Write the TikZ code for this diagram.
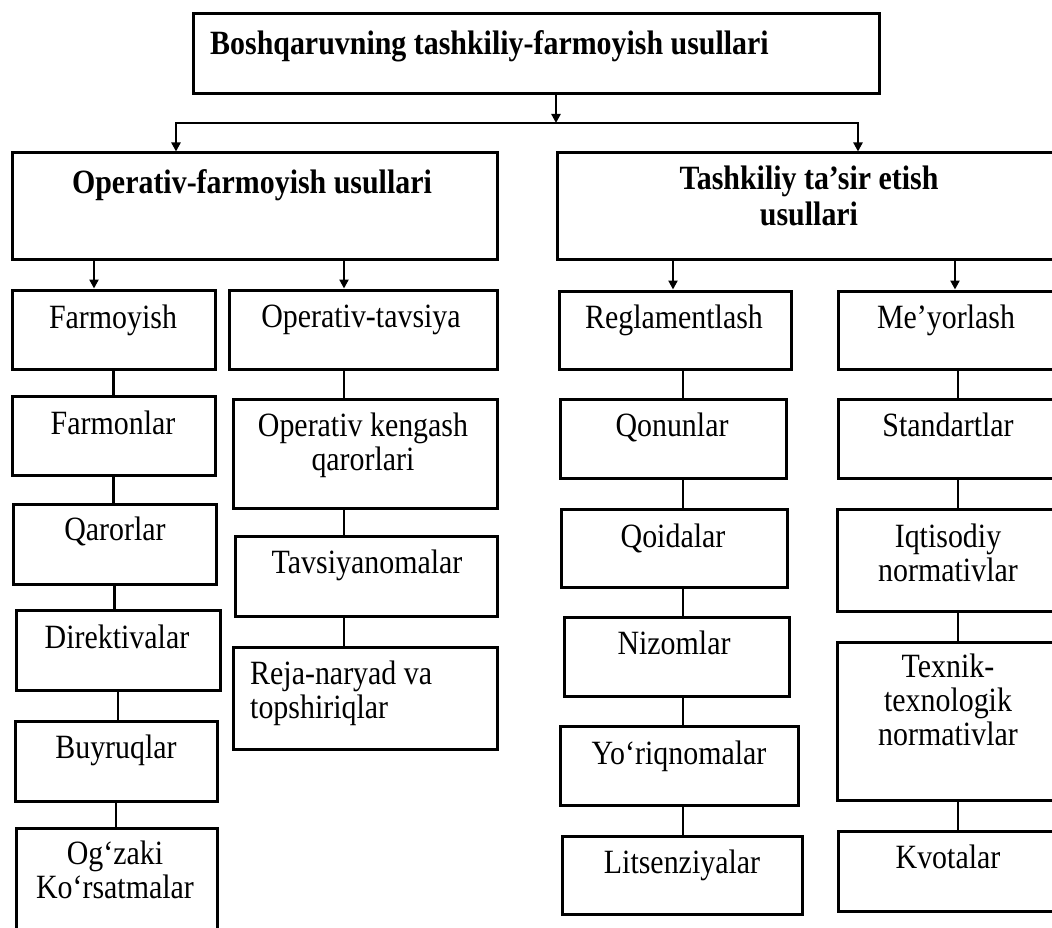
\documentclass[tikz,border=0pt]{standalone}
\usepackage{fontspec}
\setmainfont[FakeStretch=0.88]{Liberation Serif}
\usetikzlibrary{arrows.meta,fit}

\tikzset{
  blk/.style={draw, line width=3pt, inner sep=0pt},
  txt/.style={anchor=north, align=center, inner sep=0pt, font=\fontsize{34}{34}\selectfont},
  hdr/.style={txt, font=\fontsize{34}{36}\selectfont\bfseries},
  link/.style={line width=2.8pt},
  arr/.style={link, -{Triangle[length=9pt,width=9pt]}},
}

\begin{document}
\begin{tikzpicture}[x=1pt, y=-1pt]
\useasboundingbox (0,0) rectangle (1052,928);
\clip (0,0) rectangle (1052,928);

% columns of the connectors
\coordinate (xa) at (94,0);
\coordinate (xb) at (344,0);
\coordinate (xc) at (673,0);
\coordinate (xd) at (683,0);
\coordinate (xe) at (955,0);
\coordinate (xf) at (958,0);

% top level
\node[blk, fit={(193,14) (879,94)}] (top) {};
\node[hdr, anchor=north west] (top-t) at (210,30) {Boshqaruvning tashkiliy-farmoyish usullari};

% second level
\node[blk, fit={(12,153) (497,259)}] (opf) {};
\node[hdr] (opf-t) at (252,169) {Operativ-farmoyish usullari};
\node[blk, fit={(557,153) (1085,259)}] (tts) {};
\node[hdr] (tts-t) at (809,166) {Tashkiliy ta'sir etish\\usullari};

% Farmoyish
\node[blk, fit={(12,290) (215,369)}] (farm) {};
\node[txt] (farm-t) at (113,305) {Farmoyish};
\node[blk, fit={(12,396) (215,475)}] (fmon) {};
\node[txt] (fmon-t) at (113,411) {Farmonlar};
\node[blk, fit={(13,504) (216,584)}] (qar) {};
\node[txt] (qar-t) at (115,517) {Qarorlar};
\node[blk, fit={(16,610) (220,690)}] (dir) {};
\node[txt] (dir-t) at (117,625) {Direktivalar};
\node[blk, fit={(15,721) (217,801)}] (buy) {};
\node[txt] (buy-t) at (116,735) {Buyruqlar};
\node[blk, fit={(16,828) (217,960)}] (ogz) {};
\node[txt] (ogz-t) at (115,841) {Og‘zaki\\Ko‘rsatmalar};

% Operativ-tavsiya
\node[blk, fit={(229,290) (497,369)}] (ot) {};
\node[txt] (ot-t) at (361,305) {Operativ-tavsiya};
\node[blk, fit={(233,399) (497,508)}] (okq) {};
\node[txt] (okq-t) at (363,413) {Operativ kengash\\qarorlari};
\node[blk, fit={(235,536) (497,616)}] (tav) {};
\node[txt] (tav-t) at (367,550) {Tavsiyanomalar};
\node[blk, fit={(233,647) (497,749)}] (rej) {};
\node[txt, anchor=north west, align=left] (rej-t) at (250,661) {Reja-naryad va\\topshiriqlar};

% Reglamentlash
\node[blk, fit={(559,291) (791,369)}] (reg) {};
\node[txt] (reg-t) at (674,305) {Reglamentlash};
\node[blk, fit={(560,399) (786,478)}] (qon) {};
\node[txt] (qon-t) at (672,413) {Qonunlar};
\node[blk, fit={(561,509) (787,587)}] (qoi) {};
\node[txt] (qoi-t) at (673,524) {Qoidalar};
\node[blk, fit={(564,617) (789,696)}] (niz) {};
\node[txt] (niz-t) at (674,631) {Nizomlar};
\node[blk, fit={(560,726) (798,805)}] (yor) {};
\node[txt] (yor-t) at (679,741) {Yo‘riqnomalar};
\node[blk, fit={(562,836) (802,914)}] (lit) {};
\node[txt] (lit-t) at (682,850) {Litsenziyalar};

% Me'yorlash
\node[blk, fit={(838,291) (1085,369)}] (mey) {};
\node[txt] (mey-t) at (946,305) {Me’yorlash};
\node[blk, fit={(838,399) (1085,478)}] (std) {};
\node[txt] (std-t) at (948,413) {Standartlar};
\node[blk, fit={(837,509) (1085,611)}] (iqt) {};
\node[txt] (iqt-t) at (948,524) {Iqtisodiy\\normativlar};
\node[blk, fit={(837,642) (1085,800)}] (tex) {};
\node[txt] (tex-t) at (948,654) {Texnik-\\texnologik\\normativlar};
\node[blk, fit={(838,831) (1085,911)}] (kvo) {};
\node[txt] (kvo-t) at (948,845) {Kvotalar};

% arrows
\coordinate (split) at (556,123);
\coordinate (jl) at (176,123);
\coordinate (jr) at (858,123);
\draw[arr] (top.south -| split) -- (split);
\draw[link, {Triangle[length=9pt,width=9pt]}-{Triangle[length=9pt,width=9pt]}]
  (jl |- opf.north) -- (jl) -- (jr) -- (jr |- tts.north);
\draw[arr] (opf.south -| xa) -- (farm.north -| xa);
\draw[arr] (opf.south -| xb) -- (ot.north -| xb);
\draw[arr] (tts.south -| xc) -- (reg.north -| xc);
\draw[arr] (tts.south -| xe) -- (mey.north -| xe);

% chains
\foreach \a/\b in {farm/fmon, fmon/qar, qar/dir, dir/buy, buy/ogz}
  \draw[link] (\a.south) -- (\a.south |- \b.north);
\foreach \a/\b in {ot/okq, okq/tav, tav/rej}
  \draw[link] (\a.south -| xb) -- (\b.north -| xb);
\foreach \a/\b in {reg/qon, qon/qoi, qoi/niz, niz/yor, yor/lit}
  \draw[link] (\a.south -| xd) -- (\b.north -| xd);
\foreach \a/\b in {mey/std, std/iqt, iqt/tex, tex/kvo}
  \draw[link] (\a.south -| xf) -- (\b.north -| xf);
\end{tikzpicture}
\end{document}
